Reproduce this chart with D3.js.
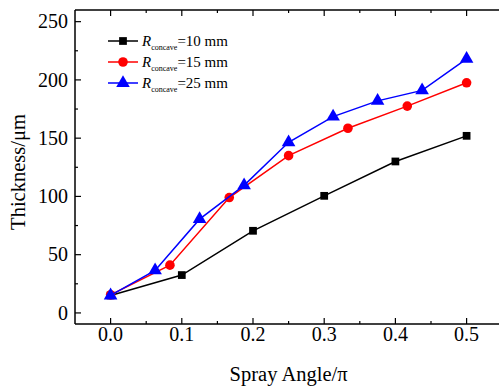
<!DOCTYPE html>
<html>
<head>
<meta charset="utf-8">
<script src="https://cdn.jsdelivr.net/npm/d3@7"></script>
<style>
  body { margin: 0; background: #fff; }
  text { font-family: "Liberation Serif", "Times New Roman", serif; }
</style>
</head>
<body>
<svg id="chart" width="499" height="388"></svg>
<script>
// data
const xTicks = [0.0, 0.1, 0.2, 0.3, 0.4, 0.5];
const yTicks = [0, 50, 100, 150, 200, 250];

const r10x = [0, 0.1, 0.2, 0.3, 0.4, 0.5];
const r10y = [15, 32.5, 70.5, 100.5, 130, 152];

const r15x = [0, 1/12, 1/6, 0.25, 1/3, 5/12, 0.5];
const r15y = [15.5, 41, 99, 135, 158.5, 177.5, 197.5];

const r25x = [0, 1/16, 1/8, 3/16, 0.25, 5/16, 3/8, 7/16, 0.5];
const r25y = [15, 36.5, 80.5, 109.5, 146.5, 168.5, 182, 191, 218];

const series = [
  {label: "10 mm", color: "#000000", shape: d3.symbolSquare, size: 60, xs: r10x, ys: r10y},
  {label: "15 mm", color: "#ff0000", shape: d3.symbolCircle, size: 72, xs: r15x, ys: r15y},
  {label: "25 mm", color: "#0000ff", shape: d3.symbolTriangle, size: 80, xs: r25x, ys: r25y},
];

const svg = d3.select("#chart");
const mLeft = 75, mTop = 10, mBottom = 324, mRight = 520;

const x = d3.scaleLinear().domain([-0.05, 0.575]).range([mLeft, mRight]);
const y = d3.scaleLinear().domain([-9.5, 260]).range([mBottom, mTop]);

// frame
svg.append("line").attr("x1", mLeft).attr("x2", mLeft).attr("y1", mTop).attr("y2", mBottom)
  .attr("stroke", "#000").attr("stroke-width", 1.5);
svg.append("line").attr("x1", mLeft).attr("x2", 499).attr("y1", mBottom).attr("y2", mBottom)
  .attr("stroke", "#000").attr("stroke-width", 1.5);
svg.append("line").attr("x1", mLeft).attr("x2", 499).attr("y1", mTop).attr("y2", mTop)
  .attr("stroke", "#000").attr("stroke-width", 1.5);

// x ticks (inward), major + minor, bottom and top
const xMinor = d3.range(0, 0.56, 0.05).map(v => +v.toFixed(3));
const g = svg.append("g");
xMinor.forEach(v => {
  const major = xTicks.some(t => Math.abs(t - v) < 1e-6);
  const len = major ? 6 : 3;
  g.append("line").attr("x1", x(v)).attr("x2", x(v)).attr("y1", mBottom).attr("y2", mBottom - len)
    .attr("stroke", "#000").attr("stroke-width", 1.2);
  g.append("line").attr("x1", x(v)).attr("x2", x(v)).attr("y1", mTop).attr("y2", mTop + len)
    .attr("stroke", "#000").attr("stroke-width", 1.2);
});
xTicks.forEach(v => {
  g.append("text").attr("x", x(v)).attr("y", mBottom + 17).attr("text-anchor", "middle")
    .attr("font-size", 20).text(v.toFixed(1));
});

// y ticks
const yMinor = d3.range(0, 260, 25);
yMinor.forEach(v => {
  const major = v % 50 === 0;
  const len = major ? 6 : 3;
  g.append("line").attr("x1", mLeft).attr("x2", mLeft + len).attr("y1", y(v)).attr("y2", y(v))
    .attr("stroke", "#000").attr("stroke-width", 1.2);
});
yTicks.forEach(v => {
  g.append("text").attr("x", mLeft - 7).attr("y", y(v)).attr("dy", "0.33em")
    .attr("text-anchor", "end").attr("font-size", 20).text(v);
});

// axis titles
svg.append("text").attr("x", x(0.25)).attr("y", 381).attr("text-anchor", "middle")
  .attr("font-size", 20.5).text("Spray Angle/\u03c0");
svg.append("text").attr("transform", "translate(25,172) rotate(-90)")
  .attr("text-anchor", "middle").attr("font-size", 20.5).text("Thickness/\u03bcm");

// series
const line = d3.line().x(d => x(d[0])).y(d => y(d[1]));
series.forEach(s => {
  const pts = s.xs.map((v, i) => [v, s.ys[i]]);
  svg.append("path").attr("d", line(pts)).attr("fill", "none")
    .attr("stroke", s.color).attr("stroke-width", 1.5);
  svg.selectAll(null).data(pts).enter().append("path")
    .attr("transform", d => `translate(${x(d[0])},${y(d[1])})`)
    .attr("d", d3.symbol().type(s.shape).size(s.size))
    .attr("fill", s.color);
});

// legend
const leg = svg.append("g");
series.forEach((s, i) => {
  const ly = 41 + i * 21;
  leg.append("line").attr("x1", 108).attr("x2", 138).attr("y1", ly).attr("y2", ly)
    .attr("stroke", s.color).attr("stroke-width", 1.5);
  leg.append("path").attr("transform", `translate(123,${ly})`)
    .attr("d", d3.symbol().type(s.shape).size(s.size)).attr("fill", s.color);
  const t = leg.append("text").attr("x", 142).attr("y", ly + 5).attr("font-size", 15);
  t.append("tspan").attr("font-style", "italic").text("R");
  t.append("tspan").attr("font-size", 8).attr("dy", 4).text("concave");
  t.append("tspan").attr("dy", -4).text("=" + s.label);
});
</script>
</body>
</html>
